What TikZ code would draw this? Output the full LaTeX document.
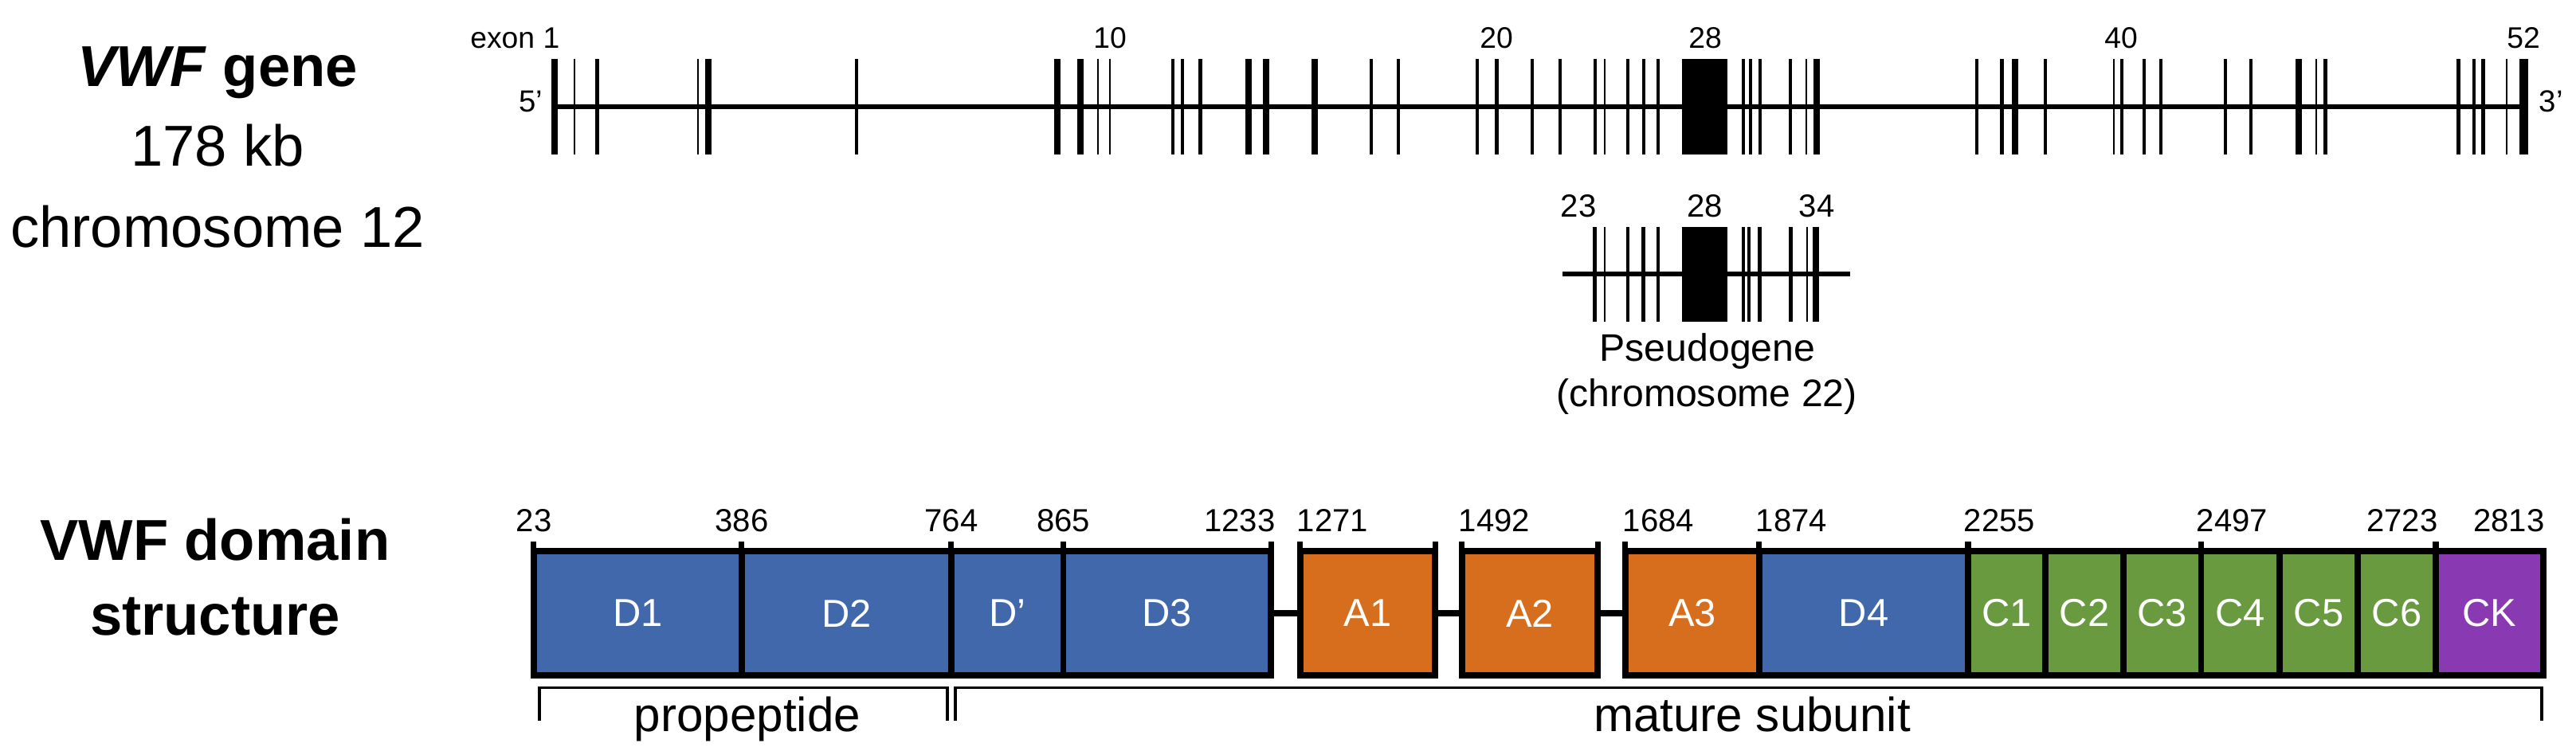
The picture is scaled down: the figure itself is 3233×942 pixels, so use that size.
\documentclass[tikz,border=0pt]{standalone}
\usepackage{fontspec}
\setmainfont{Liberation Sans}
\usepackage{tikz}
\definecolor{domblue}{RGB}{65,104,170}
\definecolor{domorange}{RGB}{214,110,30}
\definecolor{domgreen}{RGB}{106,154,64}
\definecolor{dompurple}{RGB}{137,58,178}

\begin{document}
\begin{tikzpicture}[x=0.01cm,y=-0.01cm,
    exthin/.style={line width=0.6pt},
    exmed/.style={line width=1.3pt},
    exthick/.style={line width=2.2pt},
    gline/.style={line width=1.8pt},
    num/.style={inner sep=0pt,font=\fontsize{11.4}{13}\selectfont},
    exnum/.style={inner sep=0pt,font=\fontsize{10.6}{12}\selectfont},
    title/.style={inner sep=0pt,font=\fontsize{20.6}{24}\selectfont},
    dom/.style={draw,line width=2.2pt,fill=#1,minimum height=1.56cm,inner sep=0pt,outer sep=0pt,
        text=white,font=\fontsize{13.9}{16}\selectfont},
    tick/.style={line width=2pt},
    linker/.style={line width=2.3pt},
    brk/.style={line width=1pt},
    brklabel/.style={inner sep=0pt,font=\fontsize{17.1}{20}\selectfont}]
    \useasboundingbox (0,0) rectangle (3233,942);

    \node[title,anchor=base,font=\fontsize{20.6}{24}\selectfont\bfseries] (genetitle) at (273,108) {\textit{VWF} gene};
    \node[title,anchor=base] (genesize) at (273,208.6) {178 kb};
    \node[title,anchor=base] (genechr) at (273,310) {chromosome 12};
    \node[title,anchor=base,font=\fontsize{20.6}{24}\selectfont\bfseries] (domtitle) at (270,703.6) {VWF domain};
    \node[title,anchor=base,font=\fontsize{20.6}{24}\selectfont\bfseries] (domtitleb) at (270,797) {structure};

    \draw[gline] (696,134) -- (3168,134);
    \foreach \x in {721,876,1378,1393,2014,2267,2653,2907,3146}
        \draw[exthin] (\x,74) -- (\x,194);
    \foreach \x in {749.6,1075,1472,1484,1506.7,1721,1755,1854,1878.6,1923,1958,2001.8,2043,2063,2081,
        2188,2197,2209,2247,2481,2512.5,2567,2663,2691,2712,2793,2825,2918.5,3085.7,3105,3116.6}
        \draw[exmed] (\x,74) -- (\x,194);
    \foreach \x in {696,889,1326.8,1355.8,1567,1589,1650,2280,2529,2885}
        \draw[exthick] (\x,74) -- (\x,194);
    \draw[line width=3pt] (3167.6,74) -- (3167.6,194);
    \fill (2110.7,74) rectangle (2168.3,194);

    \node[exnum,anchor=base east] (ex1) at (703,60) {exon 1};
    \node[exnum,anchor=base] (ex10) at (1393,60) {10};
    \node[exnum,anchor=base] (ex20) at (1878,60) {20};
    \node[exnum,anchor=base] (ex28) at (2140,60) {28};
    \node[exnum,anchor=base] (ex40) at (2662,60) {40};
    \node[exnum,anchor=base] (ex52) at (3167,60) {52};
    \node[exnum,anchor=base east,font=\fontsize{10.9}{12}\selectfont] (five) at (682,140) {5’};
    \node[exnum,anchor=base west,font=\fontsize{10.9}{12}\selectfont] (three) at (3186,140) {3’};

    \draw[gline] (1961,344) -- (2322,344);
    \foreach \x in {2014,2267.7}
        \draw[exthin] (\x,285) -- (\x,404);
    \foreach \x in {2001.7,2043,2062.7,2081,2188,2195,2208.7,2247.7}
        \draw[exmed] (\x,285) -- (\x,404);
    \draw[exthick] (2279,285) -- (2279,404);
    \fill (2111,285) rectangle (2168,404);

    \node[num,anchor=base east] (ps23) at (2004,272) {23};
    \node[num,anchor=base] (ps28) at (2139.5,272) {28};
    \node[num,anchor=base] (ps34) at (2280,272) {34};
    \node[anchor=base,inner sep=0pt,font=\fontsize{13.7}{16}\selectfont] (pseudo) at (2143,453) {Pseudogene};
    \node[anchor=base,inner sep=0pt,font=\fontsize{13.7}{16}\selectfont] (pseudochr) at (2142,510) {(chromosome 22)};

    \node[dom=domblue,minimum width=2.61cm] (d1) at (800.5,770) {D1};
    \node[dom=domblue,minimum width=2.63cm] (d2) at (1062.5,770) {D2};
    \node[dom=domblue,minimum width=1.405cm] (dp) at (1264.25,770) {D’};
    \node[dom=domblue,minimum width=2.605cm] (d3) at (1464.75,770) {D3};
    \node[dom=domorange,minimum width=1.69cm] (a1) at (1716.5,770) {A1};
    \node[dom=domorange,minimum width=1.70cm] (a2) at (1920,770) {A2};
    \node[dom=domorange,minimum width=1.68cm] (a3) at (2124,770) {A3};
    \node[dom=domblue,minimum width=2.62cm] (d4) at (2339,770) {D4};
    \node[dom=domgreen,minimum width=0.97cm] (c1) at (2518.5,770) {C1};
    \node[dom=domgreen,minimum width=0.98cm] (c2) at (2616,770) {C2};
    \node[dom=domgreen,minimum width=0.975cm] (c3) at (2713.75,770) {C3};
    \node[dom=domgreen,minimum width=0.985cm] (c4) at (2811.75,770) {C4};
    \node[dom=domgreen,minimum width=0.98cm] (c5) at (2910,770) {C5};
    \node[dom=domgreen,minimum width=0.98cm] (c6) at (3008,770) {C6};
    \node[dom=dompurple,minimum width=1.35cm] (ck) at (3124.5,770) {CK};

    \draw[linker] (d3.east) -- (a1.west);
    \draw[linker] (a1.east) -- (a2.west);
    \draw[linker] (a2.east) -- (a3.west);
    \foreach \n in {d1.north west,d2.north west,dp.north west,d3.north west,d3.north east,a1.north west,a1.north east,
        a2.north west,a2.north east,a3.north west,d4.north west,c1.north west,c4.north west,ck.north west}
        \draw[tick] (\n) -- ++(0,-12);

    \node[num,anchor=base] (p23) at (670,667) {23};
    \node[num,anchor=base] (p386) at (931,667) {386};
    \node[num,anchor=base] (p764) at (1194,667) {764};
    \node[num,anchor=base] (p865) at (1334.5,667) {865};
    \node[num,anchor=base east] (p1233) at (1601,667) {1233};
    \node[num,anchor=base west] (p1271) at (1627,667) {1271};
    \node[num,anchor=base west] (p1492) at (1830,667) {1492};
    \node[num,anchor=base west] (p1684) at (2036,667) {1684};
    \node[num,anchor=base west] (p1874) at (2203,667) {1874};
    \node[num,anchor=base west] (p2255) at (2464,667) {2255};
    \node[num,anchor=base west] (p2497) at (2756,667) {2497};
    \node[num,anchor=base east] (p2723) at (3060,667) {2723};
    \node[num,anchor=base east] (p2813) at (3194,667) {2813};

    \draw[brk] (677,905) -- (677,863.5) -- (1189,863.5) -- (1189,905);
    \draw[brk] (1199,905) -- (1199,863.5) -- (3190,863.5) -- (3190,905);
    \node[brklabel,anchor=base] (propep) at (938,918) {propeptide};
    \node[brklabel,anchor=base] (mature) at (2199,918) {mature subunit};
\end{tikzpicture}
\end{document}
